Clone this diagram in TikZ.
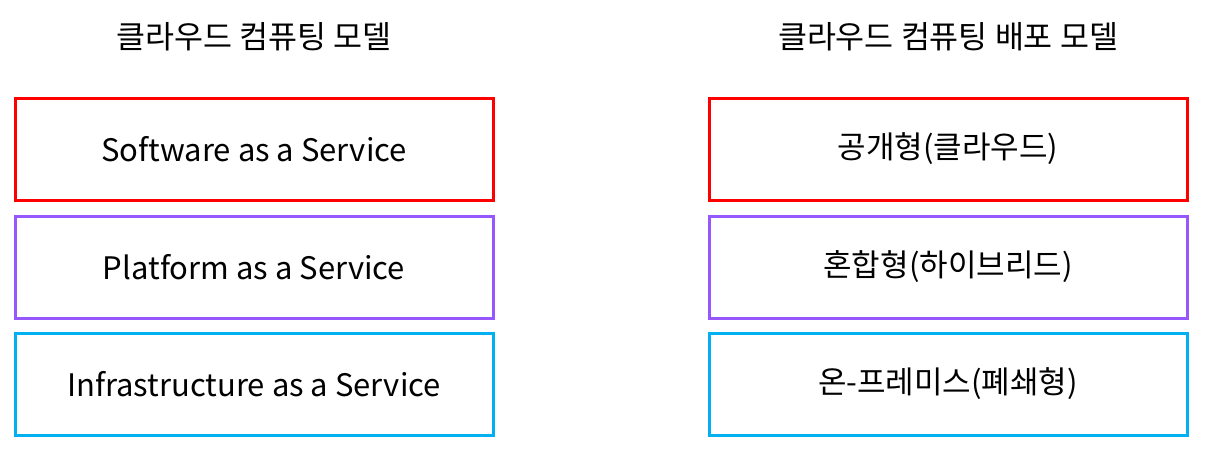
\documentclass[tikz,border=0pt]{standalone}
\usepackage{fontspec}
\setmainfont{Noto Sans CJK KR}
\definecolor{boxred}{RGB}{255,0,0}
\definecolor{boxpurple}{RGB}{151,87,255}
\definecolor{boxcyan}{RGB}{0,176,240}
\tikzset{
  mbox/.style={draw, line width=3pt, minimum width=478pt, minimum height=102pt, inner sep=0pt, font=\fontsize{31}{36}\selectfont, text=black},
  title/.style={font=\fontsize{31.5}{36}\selectfont, text=black, inner sep=0pt}
}
\begin{document}
\begin{tikzpicture}[x=1pt,y=-1pt]
\useasboundingbox[fill=white] (0,0) rectangle (1205,452);
\node[title] (t1) at (254,37) {클라우드 컴퓨팅 모델};
\node[title] (t2) at (948,37) {클라우드 컴퓨팅 배포 모델};
\node[mbox, draw=boxred] (saas) at (254,149) {Software as a Service};
\node[mbox, draw=boxpurple] (paas) at (254,267) {Platform as a Service};
\node[mbox, draw=boxcyan] (iaas) at (254,384) {Infrastructure as a Service};
\node[mbox, draw=boxred] (pub) at (948,149) {공개형(클라우드)};
\node[mbox, draw=boxpurple] (hyb) at (948,267) {혼합형(하이브리드)};
\node[mbox, draw=boxcyan] (onp) at (948,384) {온-프레미스(폐쇄형)};
\end{tikzpicture}
\end{document}
